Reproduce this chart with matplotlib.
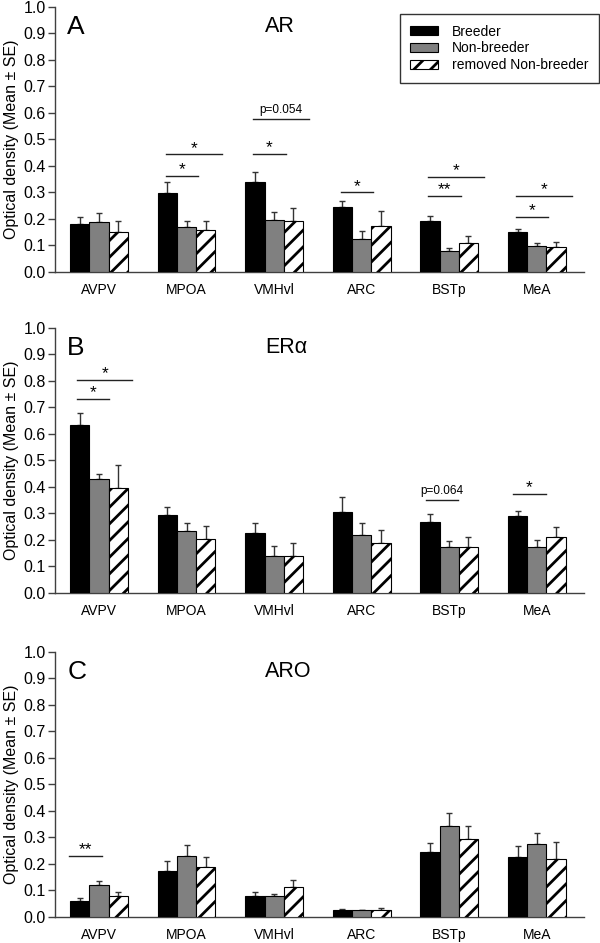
import numpy as np
import matplotlib
matplotlib.use('Agg')
import matplotlib.pyplot as plt
from matplotlib.patches import Patch

plt.rcParams['font.family'] = ['Liberation Sans', 'DejaVu Sans']
plt.rcParams['hatch.linewidth'] = 2.0

# regions and groups
regions = ['AVPV', 'MPOA', 'VMHvl', 'ARC', 'BSTp', 'MeA']
groups = ['Breeder', 'Non-breeder', 'removed Non-breeder']

# panel A - AR
ar_mean = {'Breeder': [0.181, 0.297, 0.340, 0.247, 0.191, 0.150],
           'Non-breeder': [0.190, 0.170, 0.195, 0.126, 0.080, 0.098],
           'removed Non-breeder': [0.150, 0.157, 0.192, 0.172, 0.109, 0.094]}
ar_se = {'Breeder': [0.028, 0.044, 0.039, 0.020, 0.020, 0.014],
         'Non-breeder': [0.031, 0.022, 0.031, 0.027, 0.010, 0.011],
         'removed Non-breeder': [0.042, 0.034, 0.051, 0.058, 0.026, 0.020]}

# panel B - ER alpha
er_mean = {'Breeder': [0.633, 0.294, 0.228, 0.304, 0.266, 0.290],
           'Non-breeder': [0.429, 0.232, 0.141, 0.218, 0.173, 0.174],
           'removed Non-breeder': [0.396, 0.202, 0.141, 0.189, 0.174, 0.212]}
er_se = {'Breeder': [0.048, 0.030, 0.037, 0.059, 0.032, 0.019],
         'Non-breeder': [0.021, 0.033, 0.036, 0.046, 0.022, 0.026],
         'removed Non-breeder': [0.087, 0.049, 0.048, 0.049, 0.037, 0.038]}

# panel C - aromatase
aro_mean = {'Breeder': [0.061, 0.174, 0.080, 0.028, 0.245, 0.225],
            'Non-breeder': [0.120, 0.229, 0.081, 0.025, 0.342, 0.274],
            'removed Non-breeder': [0.081, 0.187, 0.115, 0.028, 0.293, 0.220]}
aro_se = {'Breeder': [0.010, 0.038, 0.015, 0.002, 0.035, 0.041],
          'Non-breeder': [0.016, 0.041, 0.006, 0.003, 0.051, 0.042],
          'removed Non-breeder': [0.012, 0.039, 0.026, 0.004, 0.050, 0.064]}

# significance marks: (region index, x0 offset, x1 offset, y, label)
ar_sig = [(1, -0.24, 0.13, 0.364, '*'), (1, -0.24, 0.40, 0.444, '*'),
          (2, -0.24, 0.13, 0.445, '*'), (2, -0.24, 0.40, 0.576, 'p=0.054'),
          (3, -0.24, 0.13, 0.300, '*'),
          (4, -0.24, 0.13, 0.288, '**'), (4, -0.24, 0.40, 0.358, '*'),
          (5, -0.24, 0.13, 0.208, '*'), (5, -0.24, 0.40, 0.287, '*')]
er_sig = [(0, -0.25, 0.11, 0.731, '*'), (0, -0.25, 0.38, 0.803, '*'),
          (4, -0.27, 0.10, 0.352, 'p=0.064'),
          (5, -0.27, 0.10, 0.375, '*')]
aro_sig = [(0, -0.34, 0.03, 0.230, '**')]

colors = {'Breeder': 'black', 'Non-breeder': '#808080', 'removed Non-breeder': 'white'}
hatches = {'Breeder': None, 'Non-breeder': None, 'removed Non-breeder': '//'}

fig = plt.figure(figsize=(6, 9.43), dpi=100)

panels = [('A', 'AR', ar_mean, ar_se, ar_sig, 0.7116),
          ('B', 'ER\u03b1', er_mean, er_se, er_sig, 0.3712),
          ('C', 'ARO', aro_mean, aro_se, aro_sig, 0.0276)]

x = np.arange(len(regions))
w = 0.22
axc = '#404040'

for letter, title, means, ses, sigs, bottom in panels:
    ax = fig.add_axes([0.0917, bottom, 0.8817, 0.281])
    for i, g in enumerate(groups):
        pos = x + (i - 1) * w
        m = np.array(means[g])
        e = np.array(ses[g])
        ax.bar(pos, m, w, color=colors[g], edgecolor='black', linewidth=0.8,
               hatch=hatches[g], zorder=3)
        ax.errorbar(pos, m, yerr=[np.zeros_like(e), e], fmt='none',
                    ecolor='#333333', elinewidth=1.0, capsize=2.3, capthick=1.0,
                    zorder=2)
    for ri, a, b, y, lab in sigs:
        ax.plot([ri + a, ri + b], [y, y], color='#222222', lw=1.0)
        if lab.startswith('p'):
            ax.text(ri + (a + b) / 2, y + 0.012, lab, ha='center', va='bottom',
                    fontsize=8.5)
        else:
            ax.text(ri + (a + b) / 2, y - 0.005, lab, ha='center', va='bottom',
                    fontsize=12.5)
    ax.set_xlim(-0.503, 5.54)
    ax.set_ylim(0, 1.0)
    ax.set_yticks(np.arange(0, 1.01, 0.1))
    ax.set_yticklabels(['%.1f' % v for v in np.arange(0, 1.01, 0.1)])
    ax.set_xticks(x)
    ax.set_xticklabels(regions)
    ax.tick_params(axis='x', length=0, pad=8, labelsize=10)
    ax.tick_params(axis='y', length=5, width=1, color=axc, labelsize=11.5, pad=1.5)
    for s in ['top', 'right']:
        ax.spines[s].set_visible(False)
    for s in ['left', 'bottom']:
        ax.spines[s].set_color(axc)
        ax.spines[s].set_linewidth(1.0)
    ax.set_ylabel('Optical density (Mean \u00b1 SE)', fontsize=11.5, labelpad=3)
    ax.text(0.023, 0.925, letter, transform=ax.transAxes, fontsize=19,
            ha='left', va='center')
    ax.text(0.397, 0.925, title, transform=ax.transAxes, fontsize=15.5,
            ha='left', va='center')

handles = [Patch(facecolor=colors[g], edgecolor='black', linewidth=0.8,
                 hatch=hatches[g]) for g in groups]
fig.legend(handles, groups, loc='upper right', bbox_to_anchor=(0.998, 0.985),
           fontsize=10, frameon=True, fancybox=False, edgecolor='black',
           handlelength=2.0, handleheight=0.65, labelspacing=0.2,
           borderpad=0.75, handletextpad=1.0, borderaxespad=0)

fig.savefig('out.png', dpi=100)
